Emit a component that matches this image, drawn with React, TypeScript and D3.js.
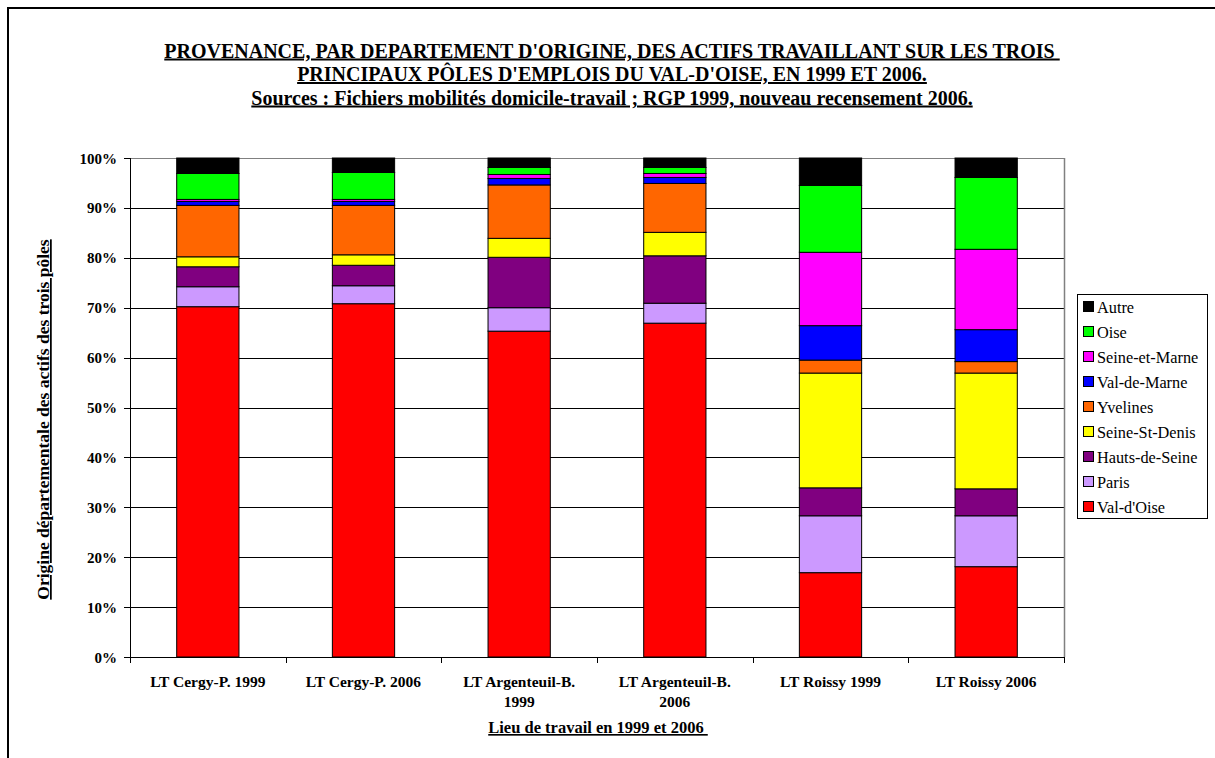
import * as d3 from 'd3'

const categories = [
  'LT Cergy-P. 1999',
  'LT Cergy-P. 2006',
  'LT Argenteuil-B. 1999',
  'LT Argenteuil-B. 2006',
  'LT Roissy 1999',
  'LT Roissy 2006',
]

// bottom to top
const seriesNames = [
  "Val-d'Oise",
  'Paris',
  'Hauts-de-Seine',
  'Seine-St-Denis',
  'Yvelines',
  'Val-de-Marne',
  'Seine-et-Marne',
  'Oise',
  'Autre',
]
const seriesColors = ['#ff0000', '#cc99ff', '#800080', '#ffff00', '#ff6600', '#0000ff', '#ff00ff', '#00ff00', '#000000']

const valDOise = [70.2, 70.8, 65.3, 66.9, 16.9, 18.1]
const paris = [4.0, 3.6, 4.7, 4.0, 11.4, 10.2]
const hautsDeSeine = [4.0, 4.1, 10.1, 9.5, 5.6, 5.4]
const seineStDenis = [2.0, 2.1, 3.8, 4.7, 23.0, 23.2]
const yvelines = [10.3, 9.9, 10.7, 9.8, 2.6, 2.3]
const valDeMarne = [0.8, 0.8, 1.3, 1.2, 6.9, 6.4]
const seineEtMarne = [0.4, 0.4, 0.8, 0.8, 14.7, 16.1]
const oise = [5.2, 5.4, 1.4, 1.2, 13.4, 14.4]
const autre = [3.1, 2.9, 1.9, 1.9, 5.5, 3.9]

const seriesValues = [valDOise, paris, hautsDeSeine, seineStDenis, yvelines, valDeMarne, seineEtMarne, oise, autre]

const yTicks = [0, 10, 20, 30, 40, 50, 60, 70, 80, 90, 100]

const titleLines = [
  "PROVENANCE, PAR DEPARTEMENT D'ORIGINE, DES ACTIFS TRAVAILLANT SUR LES TROIS ",
  "PRINCIPAUX PÔLES D'EMPLOIS DU VAL-D'OISE, EN 1999 ET 2006.",
  'Sources : Fichiers mobilités domicile-travail ; RGP 1999, nouveau recensement 2006.',
]
const xTitle = 'Lieu de travail en 1999 et 2006 '
const yTitle = 'Origine départementale des actifs des trois pôles'

const W = 1215
const H = 758
const plot = { left: 130, right: 1064, top: 158, bottom: 657 }
const font = "'Liberation Serif', 'Times New Roman', serif"

function wrapLabel(s: string) {
  if (s.length <= 16) return [s]
  const i = s.lastIndexOf(' ')
  return [s.slice(0, i), s.slice(i + 1)]
}

export default function App() {
  const rows = categories.map((c, i) => {
    const r: Record<string, number | string> = { cat: c }
    seriesNames.forEach((n, k) => (r[n] = seriesValues[k][i]))
    return r
  })
  const stacked = d3.stack<Record<string, number | string>>().keys(seriesNames)(rows as any)

  const x = d3.scaleBand().domain(categories).range([plot.left, plot.right]).paddingInner(0.6).paddingOuter(0.3)
  const xEdges = d3.scaleBand().domain(categories).range([plot.left, plot.right]).padding(0)
  const y = d3.scaleLinear().domain([0, 100]).range([plot.bottom, plot.top])

  const legend = { x: 1077, y: 294, w: 130, h: 224, row: 25 }
  const legendOrder = seriesNames.map((n, i) => ({ n, c: seriesColors[i] })).reverse()
  const titleY = [57.5, 81, 104.5]

  return (
    <>
      <style>{'body{margin:0;overflow:hidden}'}</style>
      <svg width={W} height={H} fontFamily={font} style={{ display: 'block' }}>
        <rect x={0} y={0} width={W} height={H} fill="#fff" />
        {/* outer chart frame */}
        <rect x={8} y={8} width={W + 20} height={H + 20} fill="none" stroke="#000" strokeWidth={2} />

        {titleLines.map((t, i) => (
          <text
            key={i}
            x={612}
            y={titleY[i]}
            textAnchor="middle"
            fontSize={20}
            fontWeight="bold"
            style={{ textDecoration: 'underline', whiteSpace: 'pre' }}
          >
            {t}
          </text>
        ))}

        {/* gridlines */}
        {yTicks.map((t) => (
          <line key={t} x1={plot.left} x2={plot.right} y1={Math.round(y(t)) + 0.5} y2={Math.round(y(t)) + 0.5} stroke="#000" strokeWidth={1} />
        ))}
        <line x1={plot.left} x2={plot.right} y1={plot.top + 0.5} y2={plot.top + 0.5} stroke="#808080" />
        <line x1={plot.right + 0.5} x2={plot.right + 0.5} y1={plot.top} y2={plot.bottom} stroke="#808080" strokeWidth={1.5} />

        {/* bars */}
        {stacked.map((layer, k) => (
          <g key={layer.key} fill={seriesColors[k]} stroke="#000" strokeWidth={1}>
            {layer.map((d, i) => (
              <rect
                key={i}
                x={x(categories[i])!}
                y={y(d[1])}
                width={x.bandwidth()}
                height={y(d[0]) - y(d[1])}
              />
            ))}
          </g>
        ))}

        {/* y axis */}
        <line x1={plot.left + 0.5} x2={plot.left + 0.5} y1={plot.top} y2={plot.bottom + 1} stroke="#000" />
        {yTicks.map((t) => (
          <g key={t}>
            <line x1={plot.left - 6} x2={plot.left} y1={Math.round(y(t)) + 0.5} y2={Math.round(y(t)) + 0.5} stroke="#000" />
            <text x={117} y={y(t) + 5.5} textAnchor="end" fontSize={15} fontWeight="bold">
              {t}%
            </text>
          </g>
        ))}

        {/* x axis */}
        <line x1={plot.left} x2={plot.right + 1} y1={plot.bottom + 0.5} y2={plot.bottom + 0.5} stroke="#000" />
        {categories.concat(['']).map((c, i) => {
          const xx = Math.round(i < categories.length ? xEdges(c)! : plot.right) + 0.5
          return <line key={i} x1={xx} x2={xx} y1={plot.bottom} y2={plot.bottom + 6} stroke="#000" />
        })}
        {categories.map((c) => (
          <text key={c} x={x(c)! + x.bandwidth() / 2} y={686.5} textAnchor="middle" fontSize={15.5} fontWeight="bold">
            {wrapLabel(c).map((l, j) => (
              <tspan key={j} x={x(c)! + x.bandwidth() / 2} dy={j === 0 ? 0 : 20}>
                {l}
              </tspan>
            ))}
          </text>
        ))}

        <text x={598} y={733} textAnchor="middle" fontSize={16.5} fontWeight="bold" style={{ textDecoration: 'underline', whiteSpace: 'pre' }}>
          {xTitle}
        </text>
        <text
          transform={`translate(49,${(plot.top + plot.bottom) / 2 + 12}) rotate(-90)`}
          textAnchor="middle"
          fontSize={17.5}
          fontWeight="bold"
          style={{ textDecoration: 'underline' }}
        >
          {yTitle}
        </text>

        {/* legend */}
        <rect x={legend.x + 0.5} y={legend.y + 0.5} width={legend.w} height={legend.h} fill="#fff" stroke="#000" />
        {legendOrder.map((e, i) => {
          const cy = legend.y + 13 + i * legend.row
          return (
            <g key={e.n}>
              <rect x={1083.5} y={cy - 5.5} width={10} height={10} fill={e.c} stroke="#000" />
              <text x={1097} y={cy + 5.5} fontSize={16.3}>
                {e.n}
              </text>
            </g>
          )
        })}
      </svg>
    </>
  )
}
